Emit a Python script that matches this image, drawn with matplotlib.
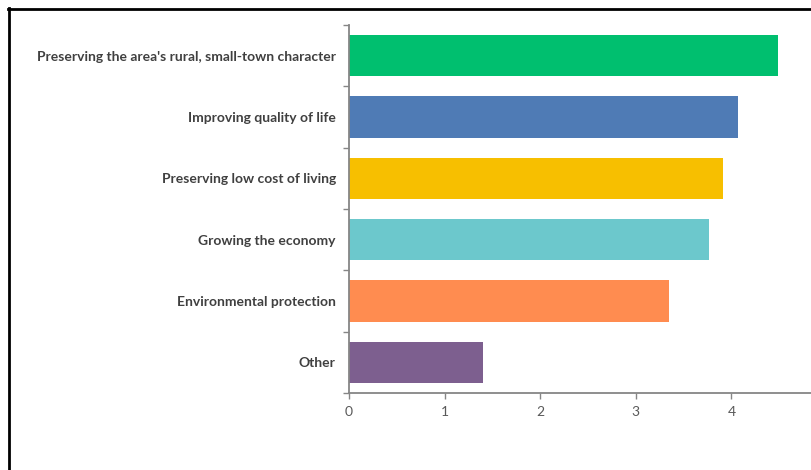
import matplotlib
matplotlib.use("Agg")
import matplotlib.pyplot as plt
from matplotlib.lines import Line2D

categories = [
    "Preserving the area's rural, small-town character",
    "Improving quality of life",
    "Preserving low cost of living",
    "Growing the economy",
    "Environmental protection",
    "Other",
]
values = [4.49, 4.07, 3.91, 3.77, 3.35, 1.40]
colors = ["#00BF6F", "#4F7BB5", "#F7BF00", "#6CC8CC", "#FF8C50", "#7D5F8F"]
xticks = [0, 1, 2, 3, 4]

fig = plt.figure(figsize=(8.11, 4.70), dpi=100)
ax = fig.add_axes([0.4303, 0.1638, 0.5697, 0.783])

pos = list(range(len(categories)))
ax.barh(pos, values, height=0.67, color=colors)
ax.set_ylim(len(categories) - 0.5, -0.5)
ax.set_xlim(0, 4.833)

ax.set_yticks(pos)
ax.set_yticklabels(categories, fontfamily="Lato", fontweight="bold",
                   fontsize=10, color="#404040")
ax.set_yticks([p - 0.5 for p in pos] + [len(categories) - 0.5], minor=True)
ax.tick_params(axis="y", which="major", length=0, pad=9.5)
ax.tick_params(axis="y", which="minor", length=4, width=1, color="#868686",
               direction="out")

ax.set_xticks(xticks)
ax.set_xticklabels([str(t) for t in xticks], fontfamily="Lato", fontsize=10,
                   color="#595959")
ax.tick_params(axis="x", length=4, width=1, color="#868686", pad=5)

for s in ["top", "right"]:
    ax.spines[s].set_visible(False)
for s in ["left", "bottom"]:
    ax.spines[s].set_color("#868686")
    ax.spines[s].set_linewidth(1.3)

# outer frame (only top and left visible in the crop)
W, H = 811, 470
fig.add_artist(Line2D([8 / W, 1], [1 - 9 / H, 1 - 9 / H], color="black",
                      lw=2.0, transform=fig.transFigure))
fig.add_artist(Line2D([9 / W, 9 / W], [0, 1 - 8 / H], color="black",
                      lw=2.0, transform=fig.transFigure))

fig.savefig("out.png", dpi=100)
